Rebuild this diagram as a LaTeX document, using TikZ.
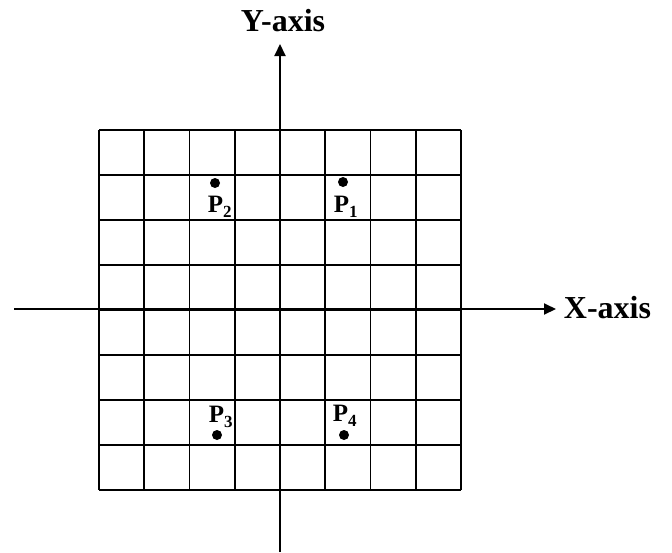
\documentclass[tikz,border=0pt]{standalone}
\usepackage{fontspec}
\setmainfont{Liberation Serif}
\usetikzlibrary{arrows.meta}

\newcommand{\ptsub}[1]{\raisebox{-5pt}{\fontsize{17}{17}\selectfont #1}}

\begin{document}
\begin{tikzpicture}[
    x=1pt, y=-1pt,
    dot/.style={circle, fill=black, inner sep=0pt, minimum size=10pt},
    plabel/.style={font=\fontsize{25}{26}\selectfont\bfseries, inner sep=0pt, anchor=base west},
    axislabel/.style={font=\fontsize{32}{34}\selectfont\bfseries, inner sep=0pt},
    axis/.style={line width=2pt, -{Triangle[length=12pt,width=11pt]}},
    line width=1.8pt
  ]
  \useasboundingbox (0,0) rectangle (672,552);

  % 8 x 8 grid
  \foreach \i in {0,...,8} {
    \draw (99+45.25*\i,130) -- (99+45.25*\i,490);
    \draw (99,130+45*\i) -- (461,130+45*\i);
  }

  % Axes
  \coordinate (xs) at (14,309);
  \coordinate (xe) at (556,309);
  \coordinate (ys) at (280,552);
  \coordinate (ye) at (280,44);
  \draw[axis] (xs) -- (xe);
  \draw[axis] (ys) -- (ye);
  \node[axislabel, anchor=west] (xlab) at (563,308) {X-axis};
  \node[axislabel] (ylab) at (283,21) {Y-axis};

  % Points
  \node[dot] (p1) at (343,182) {};
  \node[dot] (p2) at (215,183) {};
  \node[dot] (p3) at (217,435) {};
  \node[dot] (p4) at (344,435) {};
  \node[plabel] (l1) at (333,212) {P\ptsub{1}};
  \node[plabel] (l2) at (207,212) {P\ptsub{2}};
  \node[plabel] (l3) at (208,422) {P\ptsub{3}};
  \node[plabel] (l4) at (332,421) {P\ptsub{4}};
\end{tikzpicture}
\end{document}
